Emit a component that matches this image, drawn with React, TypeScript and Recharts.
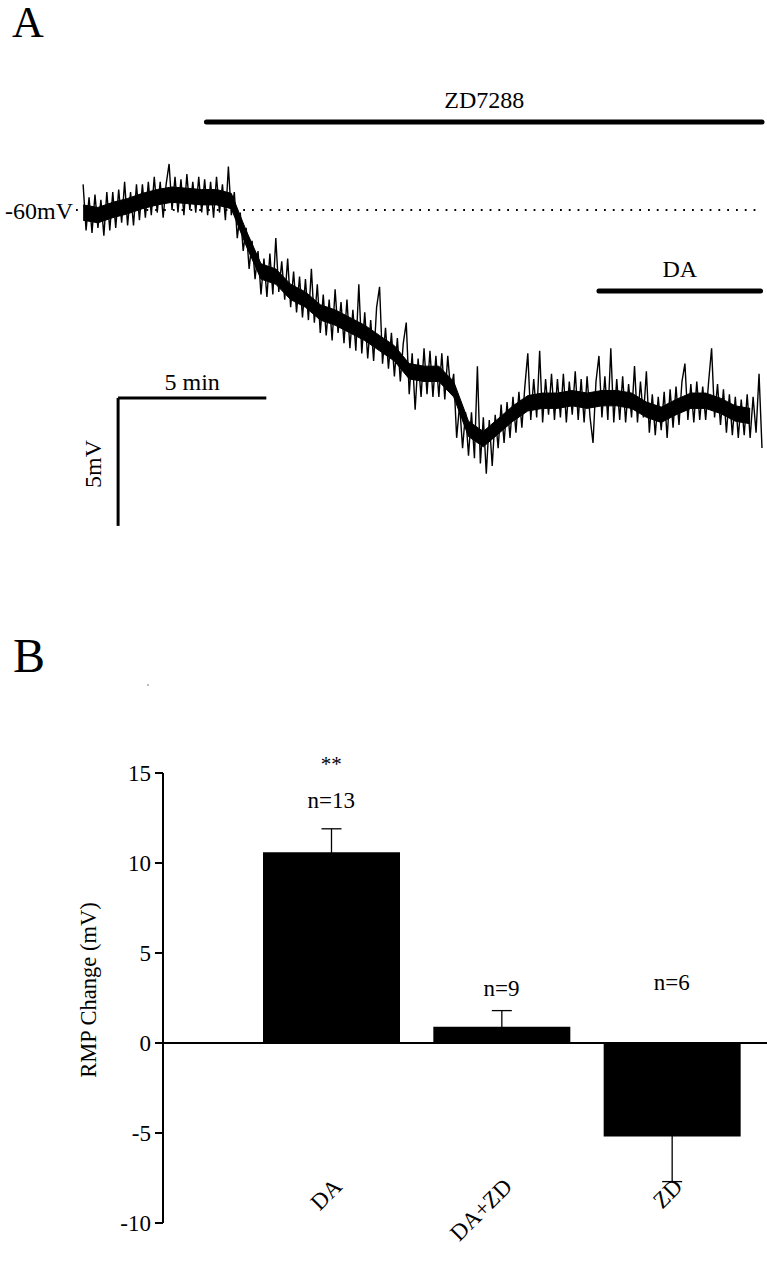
import React from 'react';
import {
  ComposedChart,
  Line,
  Area,
  BarChart,
  Bar,
  ErrorBar,
  XAxis,
  YAxis,
  ReferenceLine,
  ReferenceDot,
} from 'recharts';

const SERIF = 'Liberation Serif, Times New Roman, serif';

// ---- panel A: membrane potential (mV), one sample per 0.1 min ----
const sampleStepMin = 0.1;
const traceMv = [
  -59.0, -60.8, -59.5, -60.9, -59.4, -60.7, -59.6, -61.0, -59.3, -60.8,
  -59.3, -60.7, -59.2, -60.5, -58.9, -60.6, -59.3, -60.6, -59.0, -60.4,
  -59.0, -60.3, -58.9, -60.2, -58.7, -60.1, -58.9, -60.3, -59.0, -58.2,
  -60.0, -58.7, -60.1, -58.8, -60.2, -58.6, -60.0, -58.9, -60.1, -58.7,
  -60.1, -58.8, -60.2, -58.9, -60.3, -58.7, -60.1, -59.0, -60.4, -58.3,
  -60.2, -59.3, -61.1, -60.1, -61.6, -60.7, -62.3, -61.2, -62.7, -61.6,
  -63.3, -61.9, -63.4, -61.7, -63.3, -61.1, -63.2, -62.0, -63.5, -61.9,
  -63.8, -62.4, -64.0, -62.6, -64.2, -62.7, -64.3, -62.3, -64.4, -62.9,
  -64.8, -63.3, -64.9, -63.5, -65.1, -63.1, -64.8, -63.6, -65.2, -63.5,
  -65.4, -63.9, -65.5, -62.9, -65.6, -64.0, -65.8, -64.3, -65.9, -63.8,
  -63.0, -66.0, -64.6, -66.2, -64.8, -66.5, -65.0, -66.7, -65.2, -64.4,
  -67.2, -65.6, -67.8, -65.8, -67.3, -65.4, -67.2, -65.5, -67.3, -65.7,
  -67.3, -65.6, -67.4, -65.7, -67.1, -66.4, -68.9, -67.6, -69.3, -67.9,
  -69.6, -67.9, -69.7, -66.1, -69.9, -68.1, -70.3, -68.2, -70.0, -68.0,
  -69.3, -67.6, -69.1, -67.5, -68.9, -67.3, -68.7, -67.1, -68.5, -66.9,
  -65.6, -68.2, -66.6, -68.1, -65.5, -68.3, -66.6, -68.0, -66.4, -68.2,
  -66.6, -68.1, -66.4, -68.3, -66.7, -68.0, -66.3, -68.2, -66.6, -68.3,
  -66.5, -68.1, -69.1, -66.7, -65.7, -68.1, -66.5, -68.2, -65.4, -68.3,
  -66.6, -68.2, -66.5, -68.3, -66.8, -68.1, -66.1, -68.3, -66.7, -68.1,
  -66.3, -68.7, -67.2, -68.8, -67.3, -68.6, -67.1, -68.9, -67.0, -68.5,
  -66.9, -68.4, -66.7, -66.0, -68.2, -66.8, -68.3, -66.7, -68.2, -66.9,
  -68.2, -66.7, -65.4, -68.1, -66.8, -68.4, -67.0, -68.7, -67.2, -68.8,
  -67.3, -68.9, -67.4, -68.8, -67.2, -68.9, -67.3, -68.7, -66.4, -69.3,
];

// darkest core of the noise band, read every 0.5 min: [low, high] in mV
const bandStepMin = 0.5;
const bandLowMv = [
  -60.4, -60.5, -60.3, -60.15, -59.95, -59.8, -59.7, -59.75, -59.8, -59.8,
  -59.95, -61.4, -62.7, -62.9, -63.5, -63.8, -64.3, -64.5, -64.8, -65.1,
  -65.5, -65.9, -66.6, -66.7, -66.7, -67.3, -68.85, -69.25, -68.75, -68.25,
  -67.85, -67.75, -67.75, -67.65, -67.75, -67.65, -67.65, -67.75, -68.1, -68.3,
  -68.0, -67.75, -67.75, -67.95, -68.25, -68.35,
];
const bandHighMv = [
  -59.8, -59.9, -59.7, -59.55, -59.35, -59.2, -59.1, -59.15, -59.2, -59.2,
  -59.35, -60.8, -62.1, -62.3, -62.9, -63.2, -63.7, -63.9, -64.2, -64.5,
  -64.9, -65.3, -66.0, -66.1, -66.1, -66.7, -68.25, -68.65, -68.15, -67.65,
  -67.25, -67.15, -67.15, -67.05, -67.15, -67.05, -67.05, -67.15, -67.5, -67.7,
  -67.4, -67.15, -67.15, -67.35, -67.65, -67.75,
];

const bandEvery = Math.round(bandStepMin / sampleStepMin);
const traceData = traceMv.map((v, i) => {
  const k = i / bandEvery;
  const hasBand = Number.isInteger(k) && k < bandLowMv.length;
  return {
    t: Math.round(i * sampleStepMin * 10) / 10,
    v,
    band: hasBand ? [bandLowMv[k], bandHighMv[k]] : null,
  };
});

const restingMv = -60;
const drugBars = [
  { label: 'ZD7288', start: 4.16, end: 22.9, level: -56.56 },
  { label: 'DA', start: 17.4, end: 22.85, level: -63.16 },
];
const scaleBar = { t: 1.18, mv: -67.34, minutes: 5, millivolts: 5 };

// ---- panel B: RMP change ----
const conditions = ['DA', 'DA+ZD', 'ZD'];
const rmpChange = [10.6, 0.9, -5.2];
const rmpSem = [1.3, 0.9, 2.5];
const cellCounts = [13, 9, 6];
const countLabelLevel = [13.5, 3.05, 3.4];
const significance = { condition: 'DA', text: '**', level: 15.55 };
const rmpTicks = [-10, -5, 0, 5, 10, 15];

const barData = conditions.map((c, i) => ({ name: c, value: rmpChange[i], sem: rmpSem[i] }));

const textA = { fontFamily: SERIF, fontSize: 24, fill: '#000' };
const textB = { fontFamily: SERIF, fontSize: 23, fill: '#000' };

const RotatedTick = ({ x, y, payload }: any) => {
  const ax = x + 12;
  const ay = y - 43;
  return (
    <text
      x={ax}
      y={ay}
      transform={`rotate(-45, ${ax}, ${ay})`}
      textAnchor="end"
      fontFamily={SERIF}
      fontSize={23}
      fill="#000"
    >
      {payload.value}
    </text>
  );
};

export default function App() {
  return (
    <div style={{ position: 'absolute', left: 0, top: 0, width: 767, height: 1280, background: '#fff' }}>
      <svg width={767} height={1280} style={{ position: 'absolute', left: 0, top: 0 }}>
        <text x={12} y={37} fontFamily={SERIF} fontSize={44} fill="#000">A</text>
        <text x={13} y={672} fontFamily={SERIF} fontSize={48} fill="#000">B</text>
        <circle cx={148} cy={685} r={0.8} fill="#666" />
      </svg>

      <div style={{ position: 'absolute', left: 0, top: 0 }}>
        <ComposedChart width={767} height={560} data={traceData} margin={{ top: 82, right: 5, bottom: 17.2, left: 76 }}>
          <XAxis type="number" dataKey="t" domain={[-0.24, 22.9]} hide />
          <YAxis type="number" domain={[-73, -55]} hide />
          <ReferenceLine
            segment={[{ x: -0.24, y: restingMv }, { x: 22.9, y: restingMv }]}
            stroke="#000"
            strokeWidth={1.8}
            strokeDasharray="1.8 7"
            label={{ value: '-60mV', position: 'left', offset: 3, ...textA }}
          />
          {drugBars.map((b) => (
            <ReferenceLine
              key={b.label}
              segment={[{ x: b.start, y: b.level }, { x: b.end, y: b.level }]}
              stroke="#000"
              strokeWidth={5}
              strokeLinecap="round"
              label={{ value: b.label, position: 'top', offset: 14, ...textA }}
            />
          ))}
          <ReferenceLine
            segment={[
              { x: scaleBar.t, y: scaleBar.mv },
              { x: scaleBar.t + scaleBar.minutes, y: scaleBar.mv },
            ]}
            stroke="#000"
            strokeWidth={3}
            label={{ value: '5 min', position: 'top', offset: 8, ...textA }}
          />
          <ReferenceLine
            segment={[
              { x: scaleBar.t, y: scaleBar.mv },
              { x: scaleBar.t, y: scaleBar.mv - scaleBar.millivolts },
            ]}
            stroke="#000"
            strokeWidth={3}
            label={(props: any) => {
              const vb = props.viewBox;
              const cx = vb.x - 25;
              const cy = vb.y + vb.height / 2 + 2;
              return (
                <text
                  x={cx}
                  y={cy}
                  transform={`rotate(-90, ${cx}, ${cy})`}
                  textAnchor="middle"
                  dominantBaseline="central"
                  {...textA}
                >
                  5mV
                </text>
              );
            }}
          />
          <Area
            type="linear"
            dataKey="band"
            stroke="#000"
            strokeWidth={1}
            fill="#000"
            fillOpacity={1}
            connectNulls
            dot={false}
            activeDot={false}
            isAnimationActive={false}
          />
          <Line
            type="linear"
            dataKey="v"
            stroke="#000"
            strokeWidth={1.4}
            dot={false}
            activeDot={false}
            isAnimationActive={false}
          />
        </ComposedChart>
      </div>

      <div style={{ position: 'absolute', left: 0, top: 700 }}>
        <BarChart width={767} height={560} data={barData} margin={{ top: 73, right: 0, bottom: 0, left: 0 }}>
          <XAxis
            dataKey="name"
            height={37}
            axisLine={false}
            tickLine={false}
            padding={{ left: 83, right: 10 }}
            tick={<RotatedTick />}
            interval={0}
          />
          <YAxis
            width={163}
            domain={[-10, 15]}
            ticks={rmpTicks}
            tickSize={8}
            axisLine={{ stroke: '#000', strokeWidth: 2 }}
            tickLine={{ stroke: '#000', strokeWidth: 2 }}
            tick={{ ...textB }}
            tickMargin={4}
            label={(props: any) => {
              const vb = props.viewBox;
              const cx = 88;
              const cy = vb.y + vb.height / 2 - 8;
              return (
                <text
                  x={cx}
                  y={cy}
                  transform={`rotate(-90, ${cx}, ${cy})`}
                  textAnchor="middle"
                  dominantBaseline="central"
                  fontFamily={SERIF}
                  fontSize={22.5}
                  fill="#000"
                >
                  RMP Change (mV)
                </text>
              );
            }}
          />
          <ReferenceLine y={0} stroke="#000" strokeWidth={2} />
          <Bar dataKey="value" fill="#000" barSize={137} isAnimationActive={false}>
            <ErrorBar dataKey="sem" width={10} stroke="#000" strokeWidth={1.3} />
          </Bar>
          {conditions.map((c, i) => (
            <ReferenceDot
              key={c}
              x={c}
              y={countLabelLevel[i]}
              r={0}
              stroke="none"
              fill="none"
              ifOverflow="visible"
              label={{ value: `n=${cellCounts[i]}`, position: 'center', ...textB }}
            />
          ))}
          <ReferenceDot
            x={significance.condition}
            y={significance.level}
            r={0}
            stroke="none"
            fill="none"
            ifOverflow="visible"
            label={{ value: significance.text, position: 'center', ...textB, fontSize: 21 }}
          />
        </BarChart>
      </div>
    </div>
  );
}
